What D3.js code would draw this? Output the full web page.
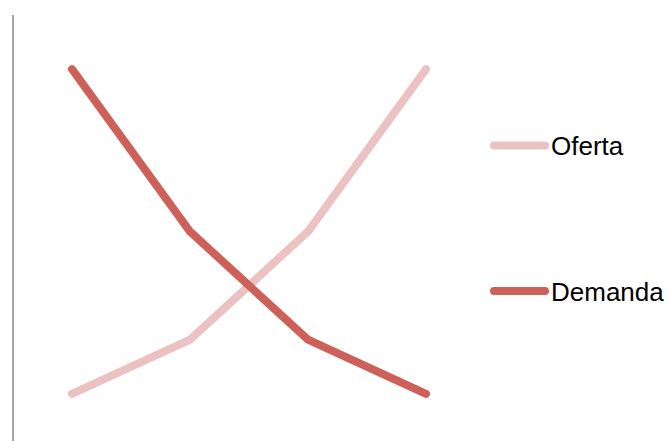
<!DOCTYPE html>
<html><head><meta charset="utf-8">
<script src="https://cdn.jsdelivr.net/npm/d3@7"></script>
<style>body{margin:0;background:#fff}svg{display:block}</style>
</head><body>
<svg id="c" width="669" height="441"></svg>
<script>
const categories = ["1","2","3","4"];
const oferta = [1, 2, 4, 7];
const demanda = [7, 4, 2, 1];
const seriesNames = ["Oferta", "Demanda"];
const colors = ["#EBC2C1", "#CD6159"];

const svg = d3.select("#c");
const x = d3.scalePoint().domain(categories).range([13, 485]).padding(0.5);
const y = d3.scaleLinear().domain([0, 8]).range([448, 15]);

svg.append("line").attr("x1", 13).attr("x2", 13).attr("y1", y(8)).attr("y2", y(0))
  .attr("stroke", "#A6A6A6").attr("stroke-width", 2);

const line = d3.line().x((d, i) => x(categories[i])).y(d => y(d));
[oferta, demanda].forEach((s, k) => {
  svg.append("path").attr("d", line(s)).attr("fill", "none")
    .attr("stroke", colors[k]).attr("stroke-width", 8)
    .attr("stroke-linecap", "round").attr("stroke-linejoin", "miter");
});

const legY = [145.5, 291];
seriesNames.forEach((n, k) => {
  svg.append("line").attr("x1", 494).attr("x2", 545).attr("y1", legY[k]).attr("y2", legY[k])
    .attr("stroke", colors[k]).attr("stroke-width", 8).attr("stroke-linecap", "round");
  svg.append("text").attr("x", 551).attr("y", legY[k] + 9.5).text(n)
    .attr("font-family", "Liberation Sans, Arial, sans-serif").attr("font-size", 26).attr("fill", "#000");
});
</script>
</body></html>
